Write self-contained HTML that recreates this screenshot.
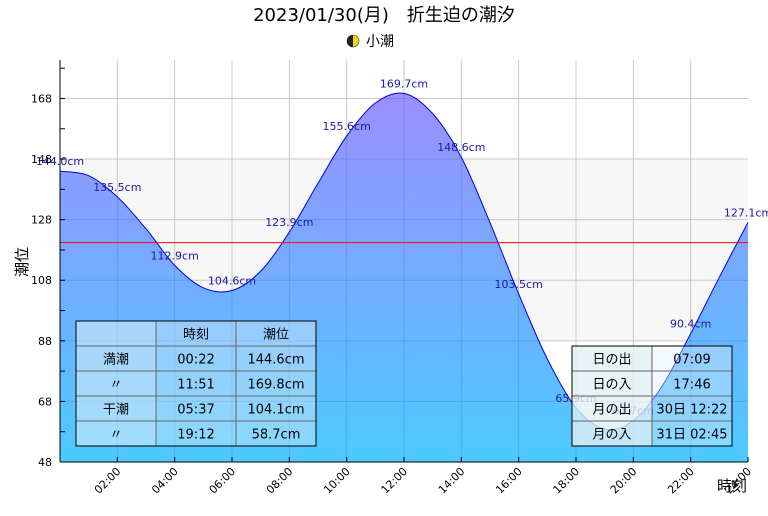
<!DOCTYPE html>
<html><head><meta charset="utf-8"><style>
body{margin:0;background:#fff;font-family:"DejaVu Sans","Noto Sans CJK JP",sans-serif}
svg text{font-family:"DejaVu Sans","Noto Sans CJK JP",sans-serif}
</style></head><body>
<svg id="c" width="768" height="512" xmlns="http://www.w3.org/2000/svg">
<defs>
<linearGradient id="g" x1="0" y1="95" x2="0" y2="462" gradientUnits="userSpaceOnUse">
<stop offset="0" stop-color="#9a90ff"/><stop offset="1" stop-color="#4ccaff"/></linearGradient>
<clipPath id="areaclip"><path id="clipp" d=""/></clipPath>
</defs>
<text x="384" y="21" font-size="18" text-anchor="middle">2023/01/30(月)　折生迫の潮汐</text>
<g>
<circle cx="353" cy="41" r="6" fill="#f2d600" stroke="#333" stroke-width="0.6"/>
<path d="M353 35 A6 6 0 0 0 353 47 Z" fill="#222"/>
<text x="366" y="46" font-size="14">小潮</text>
</g>
<g id="plot"></g>
<text x="732" y="491" font-size="15" text-anchor="middle">時刻</text>
<text transform="translate(27,262) rotate(-90)" font-size="15" text-anchor="middle">潮位</text>
</svg>
<script>
const hours=[0,1,2,3,4,5,6,7,8,9,10,11,12,13,14,15,16,17,18,19,20,21,22,23,24];
const levels=[144.0,142.5,135.5,125,112.9,105.5,104.6,111,123.9,140,155.6,166.5,169.7,163,148.6,127,103.5,82,65.9,58.9,61.7,73,90.4,109,127.1];
const labelHours=[0,2,4,6,8,10,12,14,16,18,20,22,24];
const yTicks=[48,68,88,108,128,148,168];
const xTickLabels=["02:00","04:00","06:00","08:00","10:00","12:00","14:00","16:00","18:00","20:00","22:00","24:00"];
const bandRange=[88,148];
const refLevel=120.4;
const tideRows=[["","時刻","潮位"],["満潮","00:22","144.6cm"],["〃","11:51","169.8cm"],["干潮","05:37","104.1cm"],["〃","19:12","58.7cm"]];
const sunRows=[["日の出","07:09"],["日の入","17:46"],["月の出","30日 12:22"],["月の入","31日 02:45"]];

const X0=60,X1=748,Y0=60,Y1=462;
const x=h=>X0+(X1-X0)*h/24;
const y=v=>Y1-(v-48)*(Y1-Y0)/(180.7-48);
const NS="http://www.w3.org/2000/svg";
const plot=document.getElementById('plot');
function mk(tag,attrs,parent){const e=document.createElementNS(NS,tag);for(const k in attrs)e.setAttribute(k,attrs[k]);(parent||plot).appendChild(e);return e;}

let e=mk('rect',{x:X0,y:y(bandRange[1]),width:X1-X0,height:y(bandRange[0])-y(bandRange[1]),fill:'#f7f7f7'});


const grid=mk('g',{stroke:'#c8c8c8','stroke-width':1});


for(let h=2;h<24;h+=2)mk('line',{x1:x(h),x2:x(h),y1:Y0,y2:Y1},grid);
yTicks.forEach(v=>mk('line',{x1:X0,x2:X1,y1:y(v),y2:y(v)},grid));
function cr(){let p=hours.map((h,i)=>[x(h),y(levels[i])]);let s='M'+p[0][0]+' '+p[0][1];
for(let i=0;i<p.length-1;i++){const a=p[Math.max(0,i-1)],b=p[i],c=p[i+1],dd=p[Math.min(p.length-1,i+2)];
s+=` C${b[0]+(c[0]-a[0])/6} ${b[1]+(c[1]-a[1])/6} ${c[0]-(dd[0]-b[0])/6} ${c[1]-(dd[1]-b[1])/6} ${c[0]} ${c[1]}`;}return s;}
const line=cr();
const areaD=line+` L${X1} ${Y1} L${X0} ${Y1} Z`;
document.getElementById('clipp').setAttribute('d',areaD);
e=mk('path',{d:areaD,fill:'url(#g)'});


const g2=mk('g',{stroke:'rgba(70,100,210,0.3)','stroke-width':1,'clip-path':'url(#areaclip)'});
for(let h=2;h<24;h+=2)mk('line',{x1:x(h),x2:x(h),y1:Y0,y2:Y1},g2);
yTicks.forEach(v=>mk('line',{x1:X0,x2:X1,y1:y(v),y2:y(v)},g2));
e=mk('path',{d:line,fill:'none',stroke:'#0000ee','stroke-width':1});


e=mk('line',{x1:X0,x2:X1,y1:y(refLevel),y2:y(refLevel),stroke:'#ff0000','stroke-width':1});


labelHours.forEach(h=>{const v=levels[hours.indexOf(h)];
const t=mk('text',{x:x(h),y:y(v)-6,'font-size':11,fill:'#1a1aaa','text-anchor':'middle'});
t.textContent=v.toFixed(1)+'cm';

});
const ax=mk('g',{stroke:'#000','stroke-width':1});


mk('line',{x1:X0,x2:X0,y1:Y0,y2:Y1},ax);mk('line',{x1:X0,x2:X1,y1:Y1,y2:Y1},ax);
for(let v=48;v<=178;v+=10)mk('line',{x1:X0,x2:X0+5,y1:y(v),y2:y(v)},ax);
for(let h=2;h<=24;h+=2)mk('line',{x1:x(h),x2:x(h),y1:Y1,y2:Y1-5},ax);
yTicks.forEach(v=>{const t=mk('text',{x:52,y:y(v)+4,'font-size':11,'text-anchor':'end'});t.textContent=v;

});
xTickLabels.forEach((s,i)=>{const h=(i+1)*2;const t=mk('text',{transform:`translate(${x(h)+4},${Y1+10}) rotate(-45)`,'font-size':11,'text-anchor':'end'});t.textContent=s;

});
function table(x0,y0,widths,rh,rows,name,fills){const g=mk('g',{});


const W=widths.reduce((a,b)=>a+b,0);
rows.forEach((r,ri)=>{let cx=x0;r.forEach((c,ci)=>{mk('rect',{x:cx,y:y0+ri*rh,width:widths[ci],height:rh,fill:fills[ci],stroke:'#666'},g);
const t=mk('text',{x:cx+widths[ci]/2,y:y0+ri*rh+rh/2+5,'font-size':13,'text-anchor':'middle'},g);t.textContent=c;cx+=widths[ci];});});
mk('rect',{x:x0,y:y0,width:W,height:rows.length*rh,fill:'none',stroke:'#000'},g);}
table(76,321,[80,80,80],25,tideRows,'tide-table',['rgba(225,240,250,0.55)','rgba(225,240,250,0.4)','rgba(225,240,250,0.4)']);
table(572,346,[80,80],25,sunRows,'sun-moon-table',['rgba(225,240,245,0.8)','rgba(225,240,255,0.4)']);
</script>
</body></html>
